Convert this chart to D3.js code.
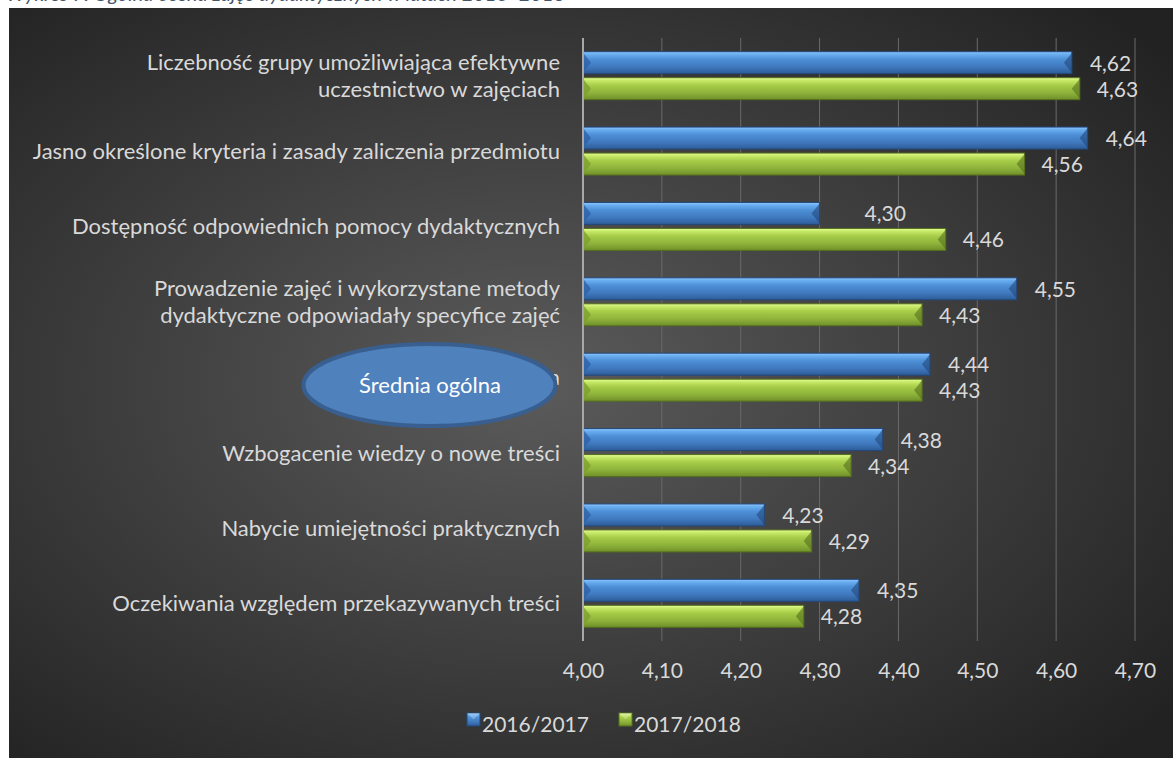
<!DOCTYPE html>
<html><head><meta charset="utf-8">
<script src="https://cdn.jsdelivr.net/npm/d3@7"></script>
<style>html,body{margin:0;padding:0;background:#fff;}svg{display:block;}</style>
</head><body>
<svg id="chart" width="1173" height="758"></svg>
<script>
const categories = [
  ["Liczebność grupy umożliwiająca efektywne", "uczestnictwo w zajęciach"],
  ["Jasno określone kryteria i zasady zaliczenia przedmiotu"],
  ["Dostępność odpowiednich pomocy dydaktycznych"],
  ["Prowadzenie zajęć i wykorzystane metody", "dydaktyczne odpowiadały specyfice zajęć"],
  ["Średnia ogólna"],
  ["Wzbogacenie wiedzy o nowe treści"],
  ["Nabycie umiejętności praktycznych"],
  ["Oczekiwania względem przekazywanych treści"]
];
const series2016 = [4.62, 4.64, 4.30, 4.55, 4.44, 4.38, 4.23, 4.35];
const series2017 = [4.63, 4.56, 4.46, 4.43, 4.43, 4.34, 4.29, 4.28];
const seriesNames = ["2016/2017", "2017/2018"];
const tickValues = [4.0, 4.1, 4.2, 4.3, 4.4, 4.5, 4.6, 4.7];
const calloutText = "Średnia ogólna";
const captionText = "Wykres 7. Ogólna ocena zajęć dydaktycznych w latach 2016–2018";

const svg = d3.select("#chart");
const FONT = "Lato, 'Open Sans', sans-serif";
const defs = svg.append("defs");

const bg = defs.append("radialGradient").attr("id","bg").attr("cx","45%").attr("cy","50%").attr("r","70%");
bg.append("stop").attr("offset","0%").attr("stop-color","#5b5b5b");
bg.append("stop").attr("offset","100%").attr("stop-color","#222");

function grad(id, stops){
  const g = defs.append("linearGradient").attr("id",id).attr("x1",0).attr("y1",0).attr("x2",0).attr("y2",1);
  stops.forEach(s=>g.append("stop").attr("offset",s[0]).attr("stop-color",s[1]));
}
grad("gBlue", [["0%","#8fc7ff"],["12%","#6aaef0"],["35%","#4d8fd6"],["70%","#3f78bd"],["100%","#2d5c98"]]);
grad("gGreen", [["0%","#e8ff9a"],["12%","#c8ea6a"],["35%","#a6cc48"],["70%","#8db23a"],["100%","#6f8f2a"]]);

svg.append("text").attr("x",6).attr("y",1).attr("font-family",FONT).attr("font-size",20)
  .attr("font-style","italic").attr("fill","#44546a").text(captionText);

svg.append("rect").attr("x",9).attr("y",8).attr("width",1164).attr("height",750).attr("fill","url(#bg)");

const x = d3.scaleLinear().domain([4.0, 4.7]).range([583, 1135]);
const y = d3.scaleBand().domain(d3.range(categories.length)).range([38, 641]);
const plotTop = 38, plotBottom = 641;

svg.append("g").selectAll("line").data(tickValues.slice(1)).join("line")
  .attr("x1",d=>x(d)).attr("x2",d=>x(d)).attr("y1",plotTop).attr("y2",plotBottom)
  .attr("stroke","#6a6a6a").attr("stroke-width",1);

const axis = d3.axisBottom(x).tickValues(tickValues).tickSize(0).tickPadding(0)
  .tickFormat(d=>d.toFixed(2).replace(".",","));
const ax = svg.append("g").attr("transform","translate(0,663)").call(axis);
ax.select(".domain").remove();
ax.selectAll("text").attr("font-family",FONT).attr("font-size",21).attr("fill","#d9d9d9").attr("dy","0.7em");

function bar(g, x0, x1, y0, h, fill, dark, mid){
  const y1 = y0 + h, ym = y0 + h/2, b = 8;
  g.append("rect").attr("x",x0).attr("y",y0).attr("width",x1-x0).attr("height",h)
    .attr("fill",fill).attr("stroke",dark).attr("stroke-width",1);
  g.append("path").attr("d",`M${x0},${y0+1}L${x0+b},${ym}L${x0},${y1-1}Z`).attr("fill",mid).attr("opacity",0.8);
  g.append("path").attr("d",`M${x1},${y0+1}L${x1-b},${ym}L${x1},${y1-1}Z`).attr("fill",dark).attr("opacity",0.6);
}

const bars = svg.append("g");
const labels = svg.append("g").attr("font-family",FONT).attr("font-size",21).attr("fill","#d9d9d9");
const cats = svg.append("g").attr("font-family",FONT).attr("font-size",22).attr("fill","#d9d9d9");
categories.forEach((cat,i)=>{
  const c = y(i) + y.bandwidth()/2;
  const v1 = series2016[i], v2 = series2017[i];
  bar(bars, x(4.0), x(v1), c-24, 22, "url(#gBlue)", "#23487a", "#2f62a8");
  bar(bars, x(4.0), x(v2), c+2, 22, "url(#gGreen)", "#556f1e", "#7e9f30");
  // the 4,30 label sits further right in the reference
  const off1 = (i === 2) ? 45 : 18;
  labels.append("text").attr("x",x(v1)+off1).attr("y",c-5).text(v1.toFixed(2).replace(".",","));
  labels.append("text").attr("x",x(v2)+17).attr("y",c+21).text(v2.toFixed(2).replace(".",","));
  const t = cats.append("text").attr("text-anchor","end").attr("x",560);
  if(cat.length===1){ t.attr("y",c+8).text(cat[0]); }
  else {
    t.append("tspan").attr("x",560).attr("y",c-6).text(cat[0]);
    t.append("tspan").attr("x",560).attr("y",c+21).text(cat[1]);
  }
});

svg.append("line").attr("x1",x(4.0)).attr("x2",x(4.0)).attr("y1",plotTop).attr("y2",plotBottom)
  .attr("stroke","#a8a8a8").attr("stroke-width",2);

svg.append("ellipse").attr("cx",429.5).attr("cy",385).attr("rx",126).attr("ry",41)
  .attr("fill","#4f81bd").attr("stroke","#385f8f").attr("stroke-width",4);
svg.append("text").attr("x",430).attr("y",393).attr("text-anchor","middle")
  .attr("font-family",FONT).attr("font-size",22).attr("fill","#fff").text(calloutText);

const leg = svg.append("g").attr("font-family",FONT).attr("font-size",21).attr("fill","#d9d9d9");
const legItems = [{n:seriesNames[0], x:467, f:"url(#gBlue)", d:"#23487a"},
                  {n:seriesNames[1], x:619, f:"url(#gGreen)", d:"#556f1e"}];
legItems.forEach(l=>{
  leg.append("rect").attr("x",l.x).attr("y",713).attr("width",13).attr("height",13).attr("fill",l.f).attr("stroke",l.d);
  leg.append("path").attr("d",`M${l.x},713L${l.x+6.5},719.5L${l.x+13},713Z`).attr("fill","#fff").attr("opacity",0.25);
  leg.append("text").attr("x",l.x+15).attr("y",732).text(l.n);
});
</script>
</body></html>
